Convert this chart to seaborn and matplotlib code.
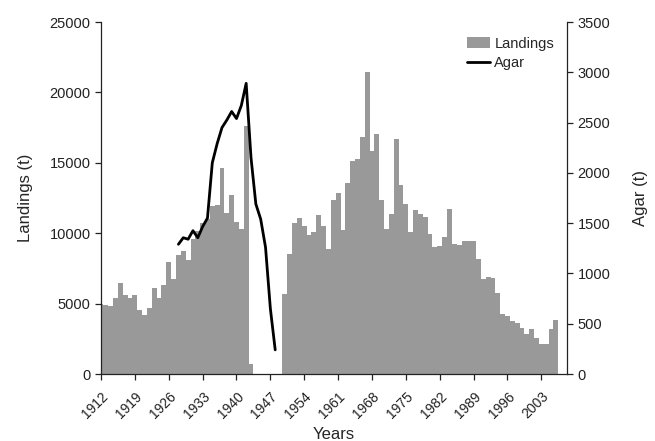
import numpy as np
import pandas as pd
import matplotlib
matplotlib.use("Agg")
import matplotlib.pyplot as plt
import seaborn as sns
from matplotlib.patches import Patch
from matplotlib.lines import Line2D

# ---- data ----
landing_years_1 = list(range(1912, 1944))
landings_1 = [5000, 4900, 4830, 5430, 6430, 5600, 5430, 5630, 4530, 4180,
              4700, 6140, 5430, 6300, 7940, 6780, 8450, 8750, 8130, 9600,
              10150, 10700, 11000, 11930, 12000, 14600, 11450, 12700, 10830, 10270,
              17600, 680]
landing_years_2 = list(range(1950, 2007))
landings_2 = [5700, 8500, 10750, 11100, 10500, 9870, 10100, 11300, 10500, 8880,
              12350, 12830, 10230, 13540, 15150, 15250, 16850, 21450, 15860, 17040,
              12350, 10300, 11360, 16690, 13450, 12100, 10120, 11650, 11380, 11170,
              9940, 9040, 9120, 9750, 11740, 9220, 9130, 9420, 9420, 9420,
              8140, 6720, 6870, 6800, 5730, 4260, 4100, 3750, 3600, 3280,
              2840, 3200, 2580, 2130, 2130, 3200, 3835]
agar_years = list(range(1928, 1949))
agar = [1290, 1355, 1340, 1425, 1355, 1465, 1550, 2100, 2290, 2450,
        2525, 2610, 2540, 2670, 2890, 2150, 1690, 1540, 1260, 650, 240]
xtick_years = list(range(1912, 2004, 7))

landings_df = pd.DataFrame({"year": landing_years_1 + landing_years_2,
                            "landings": landings_1 + landings_2})
agar_df = pd.DataFrame({"year": agar_years, "agar": agar})

# ---- style ----
sns.set_style("ticks")
plt.rcParams["font.family"] = ["Liberation Sans", "DejaVu Sans"]
plt.rcParams["xtick.direction"] = "out"
plt.rcParams["ytick.direction"] = "out"

fig = plt.figure(figsize=(6.55, 4.41), dpi=100)
ax = fig.add_axes([101 / 655, 1 - 374 / 441, 466 / 655, 352 / 441])

bar_color = "#999999"
sns.barplot(data=landings_df, x="year", y="landings", native_scale=True,
            width=1.0, color=bar_color, edgecolor="none", linewidth=0,
            saturation=1, errorbar=None, ax=ax)

ax.set_xlim(1912, 2008.3)
ax.set_ylim(0, 25000)
ax.set_yticks(range(0, 25001, 5000))
ax.set_xticks(xtick_years)
ax.set_xticklabels([str(y) for y in xtick_years], rotation=45, ha="right",
                   rotation_mode="anchor", fontsize=10)
ax.tick_params(axis="y", labelsize=10.5, length=4, width=0.9, colors="#222222")
ax.tick_params(axis="x", length=4, width=0.9, colors="#222222", pad=7)
ax.set_xlabel("Years", fontsize=12, labelpad=4)
ax.set_ylabel("Landings (t)", fontsize=12, labelpad=12)

ax2 = ax.twinx()
sns.lineplot(data=agar_df, x="year", y="agar", color="black", linewidth=2,
             ax=ax2, legend=False)
ax2.set_ylim(0, 3500)
ax2.set_yticks(range(0, 3501, 500))
ax2.tick_params(axis="y", labelsize=10.5, length=4, width=0.9, colors="#222222")
ax2.set_ylabel("Agar (t)", fontsize=12, labelpad=16)
ax2.set_xlim(1912, 2008.3)

for a in (ax, ax2):
    a.spines["top"].set_visible(False)
    for s in ("left", "right", "bottom"):
        a.spines[s].set_color("#222222")
        a.spines[s].set_linewidth(0.9)
ax.spines["right"].set_visible(False)
ax2.spines["left"].set_visible(False)
ax2.spines["bottom"].set_visible(False)

handles = [Patch(facecolor=bar_color, edgecolor="none", label="Landings"),
           Line2D([0], [0], color="black", linewidth=2, label="Agar")]
ax2.legend(handles=handles, loc="upper right", bbox_to_anchor=(0.985, 0.975),
           frameon=False, fontsize=10.5, handlelength=1.6, handletextpad=0.3,
           labelspacing=0.35, borderaxespad=0)

fig.savefig("out.png", dpi=100)
